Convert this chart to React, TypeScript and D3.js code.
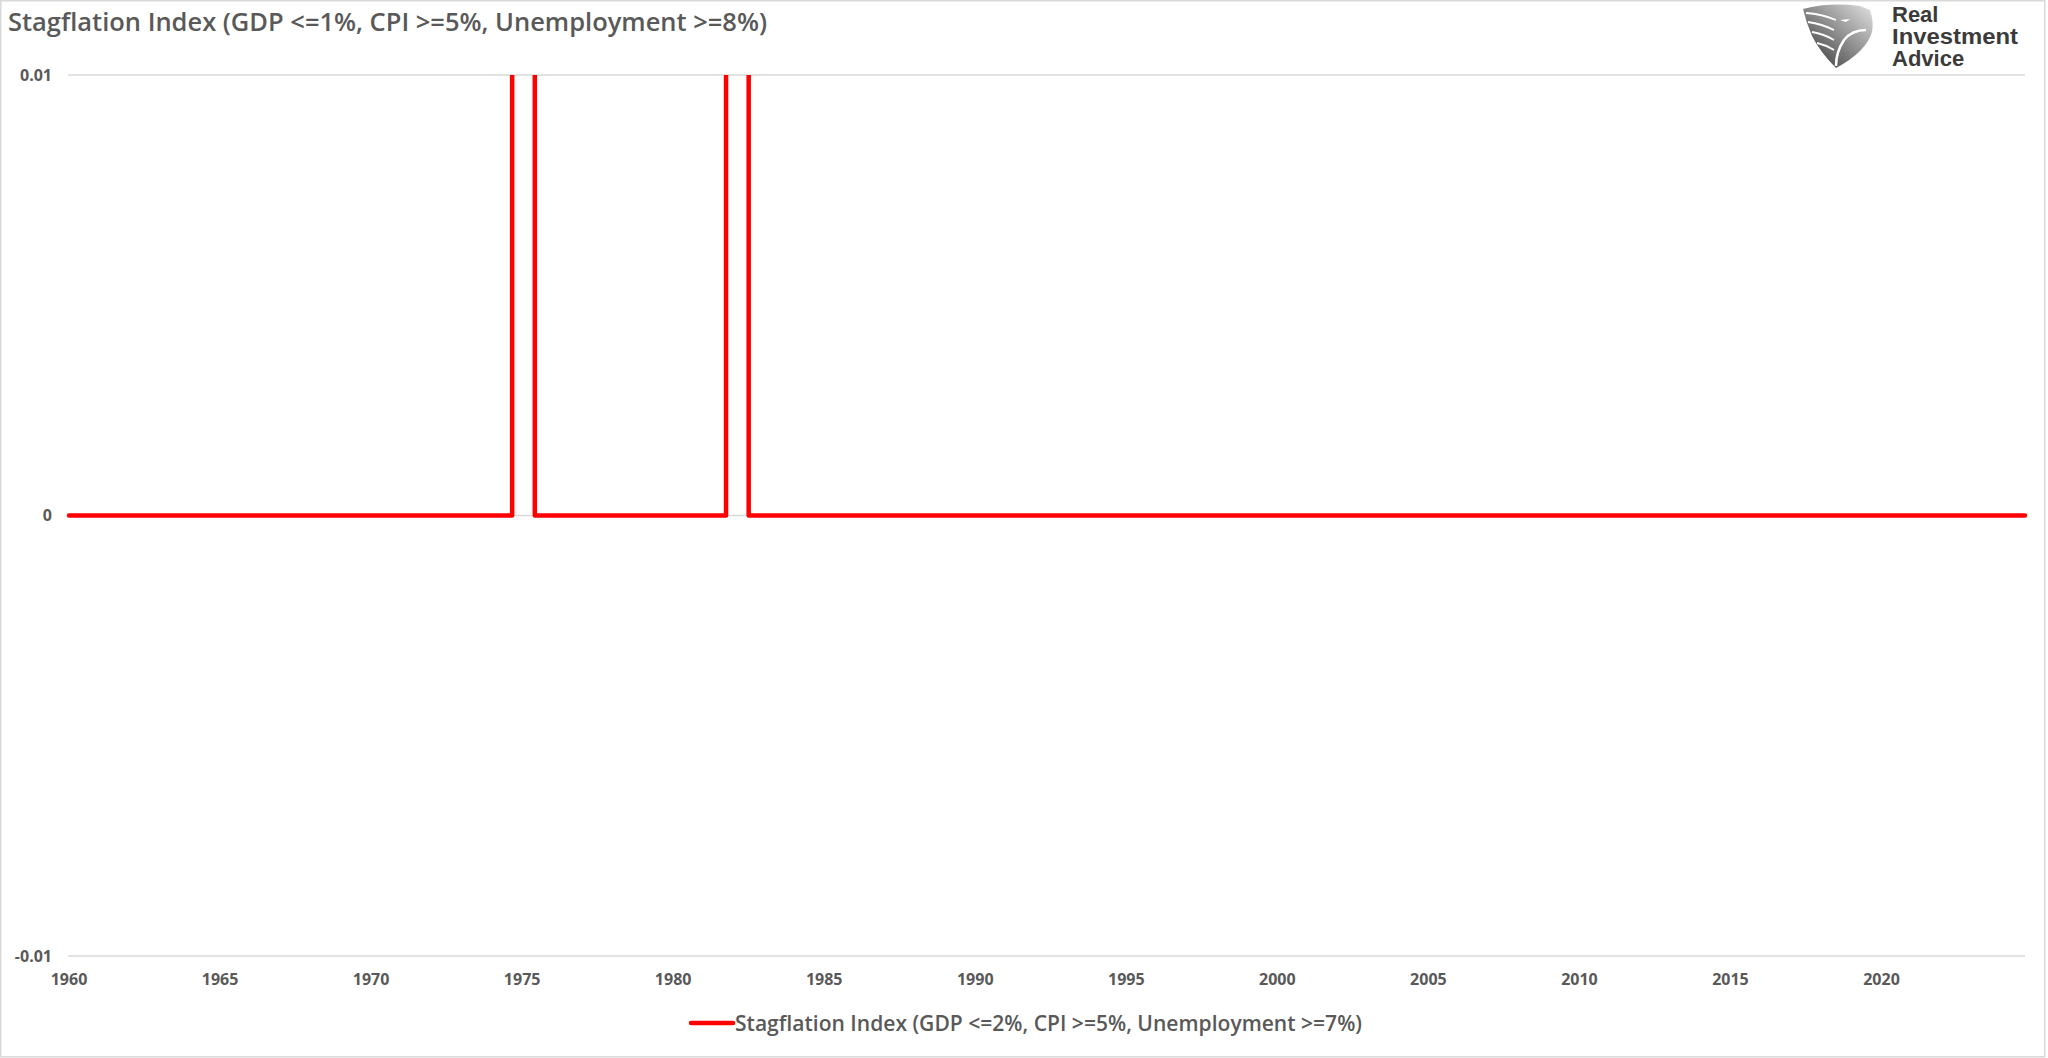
import React from "react";
import * as d3 from "d3";

const title = "Stagflation Index (GDP <=1%, CPI >=5%, Unemployment >=8%)";
const seriesName = "Stagflation Index (GDP <=2%, CPI >=5%, Unemployment >=7%)";
// step series: value holds from each date until the next one (index is 0/1, axis clipped at ±0.01)
const stepDates = [1960.0, 1974.67, 1975.42, 1981.75, 1982.5, 2024.75];
const stepValues = [0, 1, 0, 1, 0, 0];
const yTicks = [-0.01, 0, 0.01];
const yTickLabels = ["-0.01", "0", "0.01"];
const xTicks = [1960, 1965, 1970, 1975, 1980, 1985, 1990, 1995, 2000, 2005, 2010, 2015, 2020];

const W = 2048;
const H = 1058;
const FONT = "'Open Sans', 'Liberation Sans', sans-serif";

export default function App() {
  const x = d3.scaleLinear().domain([1960, 2024.75]).range([69, 2025]);
  const y = d3.scaleLinear().domain([-0.01, 0.01]).range([956, 75]);
  const pts = stepDates.map((d, i) => [d, stepValues[i]] as [number, number]);
  const line = d3
    .line<[number, number]>()
    .x((d) => x(d[0]))
    .y((d) => y(d[1]))
    .curve(d3.curveStepAfter);

  return (
    <svg
      width={W}
      height={H}
      style={{ position: "absolute", left: 0, top: 0, display: "block", background: "#fff" }}
    >
      <defs>
        <clipPath id="plotclip">
          <rect x={0} y={y(0.01)} width={W} height={y(-0.01) - y(0.01)} />
        </clipPath>
        <linearGradient id="eg" x1="1" y1="0" x2="0" y2="1">
          <stop offset="0" stopColor="#e2e2e2" />
          <stop offset="0.5" stopColor="#8a8a8a" />
          <stop offset="1" stopColor="#2e2e2e" />
        </linearGradient>
      </defs>
      <rect x={0.75} y={0.75} width={W - 4} height={H - 2} fill="#fff" stroke="#d9d9d9" strokeWidth={1.5} />
      <text
        x={8}
        y={31}
        fontFamily={FONT}
        fontSize={25}
        fontWeight={600}
        fill="#595959"
        textLength={759}
        lengthAdjust="spacingAndGlyphs"
      >
        {title}
      </text>

      {/* logo */}
      <g>
        <path
          d="M1803,9 Q1830,2 1860,6 L1870,10 Q1874,22 1872,32 Q1866,52 1836,68 Q1820,52 1812,36 Q1806,22 1803,9 Z"
          fill="url(#eg)"
        />
        <path d="M1806,13 Q1822,14 1836,20" stroke="#fff" strokeWidth={1.8} fill="none" />
        <path d="M1808,22 Q1822,24 1834,30" stroke="#fff" strokeWidth={1.8} fill="none" />
        <path d="M1812,32 Q1824,34 1834,40" stroke="#fff" strokeWidth={1.8} fill="none" />
        <path d="M1817,43 Q1826,45 1834,50" stroke="#fff" strokeWidth={1.8} fill="none" />
        <path d="M1840,20 L1850,19 L1846,22 Z" fill="#fff" />
        <path d="M1866,30 Q1852,30 1844,40 Q1836,52 1836,66" stroke="#fff" strokeWidth={2.5} fill="none" />
        <text fontFamily="'Liberation Sans', Arial, sans-serif" fontWeight="bold" fontSize={22} fill="#3b3b3b">
          <tspan x={1892} y={22}>Real</tspan>
          <tspan x={1892} y={44} textLength={126} lengthAdjust="spacingAndGlyphs">Investment</tspan>
          <tspan x={1892} y={66}>Advice</tspan>
        </text>
      </g>

      {/* gridlines */}
      {yTicks.map((t) => (
        <line key={t} x1={68} x2={2025} y1={y(t)} y2={y(t)} stroke="#d9d9d9" strokeWidth={1.3} />
      ))}
      {yTicks.map((t, i) => (
        <text
          key={"l" + t}
          x={52}
          y={y(t)}
          dy="0.36em"
          textAnchor="end"
          fontFamily={FONT}
          fontWeight="bold"
          fontSize={16}
          fill="#595959"
        >
          {yTickLabels[i]}
        </text>
      ))}
      {xTicks.map((t) => (
        <text
          key={"x" + t}
          x={x(t)}
          y={979}
          dy="0.36em"
          textAnchor="middle"
          fontFamily={FONT}
          fontWeight="bold"
          fontSize={16}
          fill="#595959"
        >
          {t}
        </text>
      ))}

      <path
        d={line(pts) || ""}
        clipPath="url(#plotclip)"
        fill="none"
        stroke="#ff0000"
        strokeWidth={4.5}
        strokeLinejoin="round"
        strokeLinecap="round"
      />

      {/* legend */}
      <line x1={691} x2={733} y1={1023} y2={1023} stroke="#ff0000" strokeWidth={4.5} strokeLinecap="round" />
      <text
        x={735}
        y={1031}
        fontFamily={FONT}
        fontSize={21}
        fontWeight={600}
        fill="#595959"
        textLength={627}
        lengthAdjust="spacingAndGlyphs"
      >
        {seriesName}
      </text>
    </svg>
  );
}
